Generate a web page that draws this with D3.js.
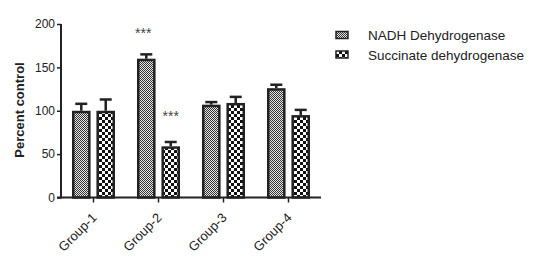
<!DOCTYPE html>
<html><head><meta charset="utf-8">
<script src="https://cdn.jsdelivr.net/npm/d3@7"></script>
<style>body{margin:0;background:#fff}svg{display:block;font-family:"Liberation Sans",Arial,sans-serif}</style>
</head><body><svg id="c" width="536" height="260"></svg>
<script>
const groups = ["Group-1","Group-2","Group-3","Group-4"];
const seriesNames = ["NADH Dehydrogenase","Succinate dehydrogenase"];
const nadh = [100,160,107,126];
const nadhErr = [8,5,3,4];
const succ = [100,59,109,95];
const succErr = [13,5,7,6];
const yTicks = [0,50,100,150,200];
const stars = [{g:"Group-2", s:0, y:184, label:"***"},{g:"Group-2", s:1, y:88, label:"***"}];

const svg = d3.select("#c");
const defs = svg.append("defs");
const p1 = defs.append("pattern").attr("id","pNadh").attr("patternUnits","userSpaceOnUse").attr("width",2).attr("height",2);
p1.append("rect").attr("width",2).attr("height",2).attr("fill","#e8e8e8");
p1.append("rect").attr("width",1).attr("height",1).attr("fill","#333");
p1.append("rect").attr("x",1).attr("y",1).attr("width",1).attr("height",1).attr("fill","#333");
const p2 = defs.append("pattern").attr("id","pSucc").attr("patternUnits","userSpaceOnUse").attr("width",6).attr("height",6);
p2.append("rect").attr("width",6).attr("height",6).attr("fill","#fff");
p2.append("rect").attr("width",3).attr("height",3).attr("fill","#111");
p2.append("rect").attr("x",3).attr("y",3).attr("width",3).attr("height",3).attr("fill","#111");
const fills = ["url(#pNadh)","url(#pSucc)"];

const x = d3.scaleBand().domain(groups).range([61,321]).padding(0);
const y = d3.scaleLinear().domain([0,200]).range([197.5,24]);
const inner = d3.scaleBand().domain([0,1]).range([-21.5,21.5]).paddingInner(0.24);

const data = [];
groups.forEach((g,i)=>{
  data.push({g, s:0, v:nadh[i], e:nadhErr[i]});
  data.push({g, s:1, v:succ[i], e:succErr[i]});
});

// error bars
const eb = svg.append("g");
data.forEach(d=>{
  const cx = x(d.g)+x.bandwidth()/2+inner(d.s)+inner.bandwidth()/2;
  eb.append("line").attr("x1",cx).attr("x2",cx).attr("y1",y(d.v)).attr("y2",y(d.v+d.e)).attr("stroke","#222").attr("stroke-width",2.5);
  eb.append("line").attr("x1",cx-6).attr("x2",cx+6).attr("y1",y(d.v+d.e)).attr("y2",y(d.v+d.e)).attr("stroke","#222").attr("stroke-width",2.5);
});

svg.append("g").selectAll("rect").data(data).join("rect")
  .attr("x",d=>x(d.g)+x.bandwidth()/2+inner(d.s)+1.25)
  .attr("width",inner.bandwidth()-2.5)
  .attr("y",d=>y(d.v)+1.25)
  .attr("height",d=>y(0)-y(d.v)-1.25)
  .attr("fill",d=>fills[d.s]).attr("stroke","#222").attr("stroke-width",2.5);

// axes
const ya = svg.append("g").attr("transform","translate(61,0)")
  .call(d3.axisLeft(y).tickValues(yTicks).tickSize(4).tickPadding(2));
ya.select(".domain").attr("stroke","#222").attr("stroke-width",2).attr("d","M0,24V198.5");
ya.selectAll(".tick line").attr("stroke","#222").attr("stroke-width",1.5);
ya.selectAll("text").attr("font-size",12).attr("fill","#222").attr("font-family","Liberation Sans, Arial, sans-serif");

const xa = svg.append("g").attr("transform","translate(0,197.5)")
  .call(d3.axisBottom(x).tickSize(5).tickPadding(4));
xa.select(".domain").attr("stroke","#222").attr("stroke-width",2).attr("d","M57,0H321");
xa.selectAll(".tick line").attr("stroke","#222").attr("stroke-width",1.5);
xa.selectAll("text").attr("font-size",13).attr("fill","#222").attr("font-family","Liberation Sans, Arial, sans-serif")
  .attr("text-anchor","end").attr("x",0).attr("y",0).attr("dy",0).attr("transform","translate(4,21) rotate(-45)");

svg.append("text").attr("transform","translate(24,110) rotate(-90)").attr("text-anchor","middle")
  .attr("font-size",13).attr("font-weight","bold").attr("fill","#222").text("Percent control");

svg.append("g").selectAll("text").data(stars).join("text")
  .attr("x",d=>x(d.g)+x.bandwidth()/2+inner(d.s)+inner.bandwidth()/2 - (d.s===0?3:0))
  .attr("y",d=>y(d.y)).attr("text-anchor","middle").attr("font-size",14).attr("fill","#444").text(d=>d.label);

// legend
const lg = svg.append("g");
seriesNames.forEach((n,i)=>{
  const yy = 35 + i*19.5;
  lg.append("rect").attr("x",336).attr("y",yy-3.5).attr("width",12).attr("height",7).attr("fill",fills[i]).attr("stroke","#222").attr("stroke-width",1.5);
  lg.append("text").attr("x",368).attr("y",yy+5).attr("font-size",13.5).attr("fill","#222").text(n);
});
</script></body></html>
